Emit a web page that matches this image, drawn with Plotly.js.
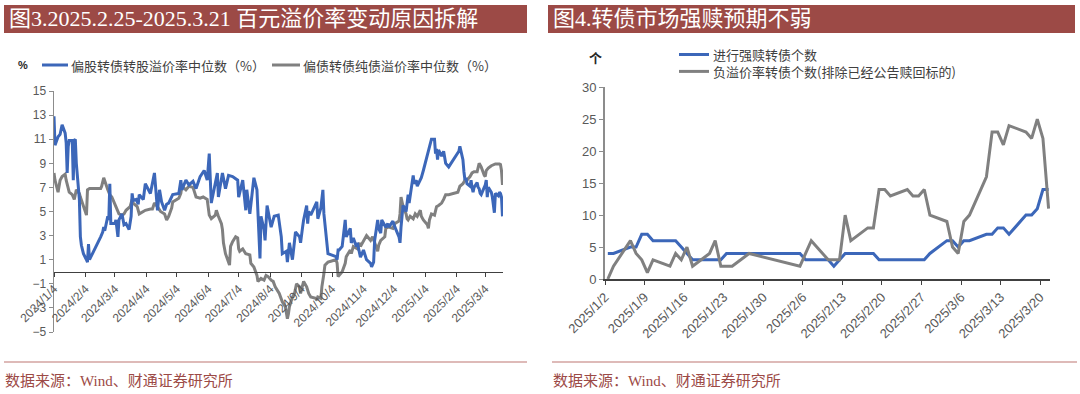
<!DOCTYPE html>
<html>
<head>
<meta charset="utf-8">
<script src="https://cdn.plot.ly/plotly-3.0.1.min.js"></script>
<style>
html,body{margin:0;padding:0;background:#fff;}
#chart{width:1080px;height:394px;}
</style>
</head>
<body>
<div id="chart"></div>
<script>
// ---------------- DATA ----------------
// Left panel: 偏股转债转股溢价率中位数 (%)
const leftBlueSeries = [
["2024-01-04",12.9],["2024-01-05",10.5],["2024-01-08",11.2],["2024-01-10",11.4],["2024-01-11",11.8],["2024-01-12",12.2],
["2024-01-15",11.5],["2024-01-16",10.7],["2024-01-17",8.2],["2024-01-18",10.4],["2024-01-19",10.9],["2024-01-22",10.9],
["2024-01-23",7.6],["2024-01-24",10.9],["2024-01-25",11.0],["2024-01-26",9.0],["2024-01-29",6.0],["2024-01-30",2.9],
["2024-01-31",2.2],["2024-02-02",1.5],["2024-02-05",1.0],["2024-02-06",0.8],["2024-02-07",2.3],["2024-02-08",1.0],
["2024-02-19",2.9],["2024-02-21",3.3],["2024-02-22",3.7],["2024-02-23",3.4],["2024-02-26",4.6],["2024-02-27",4.3],
["2024-02-28",7.3],["2024-02-29",4.0],["2024-03-04",4.0],["2024-03-05",4.3],["2024-03-07",2.9],["2024-03-08",4.3],
["2024-03-11",4.8],["2024-03-13",3.9],["2024-03-15",4.0],["2024-03-18",3.5],["2024-03-20",4.6],["2024-03-21",6.5],
["2024-03-22",5.9],["2024-03-25",6.0],["2024-03-27",5.6],["2024-03-28",6.4],["2024-04-01",6.0],["2024-04-03",7.3],
["2024-04-08",6.5],["2024-04-10",7.3],["2024-04-12",8.2],["2024-04-15",5.1],["2024-04-17",6.8],["2024-04-19",5.8],
["2024-04-22",5.1],["2024-04-24",5.6],["2024-04-26",5.7],["2024-04-30",6.4],["2024-05-06",6.5],["2024-05-08",7.6],
["2024-05-09",6.8],["2024-05-13",7.6],["2024-05-16",7.2],["2024-05-20",7.5],["2024-05-23",6.9],["2024-05-27",7.9],
["2024-05-31",8.4],["2024-06-03",7.6],["2024-06-05",9.8],["2024-06-07",5.7],["2024-06-11",7.6],["2024-06-13",8.2],
["2024-06-14",6.2],["2024-06-17",7.6],["2024-06-18",8.2],["2024-06-21",6.9],["2024-06-24",8.0],["2024-06-28",7.9],
["2024-07-03",7.6],["2024-07-04",6.2],["2024-07-08",7.6],["2024-07-11",5.1],["2024-07-12",6.8],["2024-07-15",4.8],
["2024-07-19",7.8],["2024-07-22",6.8],["2024-07-23",4.8],["2024-07-25",1.1],["2024-07-26",4.6],["2024-07-29",3.5],
["2024-07-30",2.6],["2024-08-01",5.5],["2024-08-05",3.7],["2024-08-08",4.6],["2024-08-12",4.7],["2024-08-15",2.9],
["2024-08-16",1.5],["2024-08-20",1.7],["2024-08-21",0.8],["2024-08-23",2.4],["2024-08-26",1.0],["2024-08-29",3.3],
["2024-09-02",2.9],["2024-09-03",2.4],["2024-09-05",3.7],["2024-09-06",4.3],["2024-09-09",5.5],["2024-09-10",4.0],
["2024-09-11",5.0],["2024-09-13",4.7],["2024-09-19",5.8],["2024-09-20",4.4],["2024-09-23",5.3],["2024-09-25",6.8],
["2024-09-26",4.8],["2024-09-30",1.5],["2024-10-08",1.25],["2024-10-09",1.0],["2024-10-10",1.8],["2024-10-11",1.8],
["2024-10-14",2.1],["2024-10-17",4.3],["2024-10-18",2.9],["2024-10-22",3.6],["2024-10-23",2.4],["2024-10-25",2.8],
["2024-10-28",2.1],["2024-10-29",2.4],["2024-11-01",1.2],["2024-11-04",1.8],["2024-11-07",1.0],["2024-11-11",0.7],
["2024-11-12",0.4],["2024-11-14",0.8],["2024-11-15",2.6],["2024-11-18",4.3],["2024-11-19",3.6],["2024-11-21",3.2],
["2024-11-22",4.3],["2024-11-26",3.7],["2024-11-28",4.0],["2024-11-29",3.7],["2024-12-03",4.2],["2024-12-05",3.7],
["2024-12-09",2.9],["2024-12-10",2.4],["2024-12-11",3.7],["2024-12-13",5.5],["2024-12-16",5.0],["2024-12-18",6.4],
["2024-12-19",5.7],["2024-12-23",8.0],["2024-12-24",7.3],["2024-12-26",7.6],["2024-12-27",7.1],["2024-12-30",7.6],
["2024-12-31",7.8],["2025-01-02",8.4],["2025-01-06",9.6],["2025-01-07",10.0],["2025-01-09",10.5],["2025-01-10",11.0],
["2025-01-13",11.0],["2025-01-14",9.8],["2025-01-15",10.2],["2025-01-16",9.3],["2025-01-17",10.1],["2025-01-20",9.6],
["2025-01-22",10.0],["2025-01-24",9.0],["2025-01-27",8.7],["2025-02-05",9.8],["2025-02-06",10.0],["2025-02-07",10.4],
["2025-02-10",9.3],["2025-02-11",8.3],["2025-02-12",7.6],["2025-02-13",7.8],["2025-02-14",7.3],["2025-02-17",7.1],
["2025-02-18",7.6],["2025-02-19",7.0],["2025-02-20",6.6],["2025-02-21",7.0],["2025-02-24",7.4],["2025-02-25",7.0],
["2025-02-26",6.9],["2025-02-27",6.5],["2025-02-28",6.4],["2025-03-03",7.0],["2025-03-04",7.2],["2025-03-05",7.6],
["2025-03-06",6.2],["2025-03-07",7.0],["2025-03-10",6.6],["2025-03-11",6.2],["2025-03-12",5.6],["2025-03-13",4.9],
["2025-03-14",6.5],["2025-03-17",6.3],["2025-03-18",6.6],["2025-03-19",6.5],["2025-03-20",6.2],["2025-03-21",4.6]
];
// Left panel: 偏债转债纯债溢价率中位数 (%)
const leftGraySeries = [
["2024-01-04",8.2],["2024-01-05",7.6],["2024-01-08",6.6],["2024-01-09",7.1],["2024-01-10",7.6],["2024-01-12",7.9],
["2024-01-15",8.1],["2024-01-16",7.6],["2024-01-18",6.8],["2024-01-19",6.6],["2024-01-22",6.4],["2024-01-24",6.0],
["2024-01-26",6.8],["2024-01-29",6.5],["2024-01-30",6.2],["2024-02-01",5.7],["2024-02-02",5.3],["2024-02-05",4.7],
["2024-02-06",6.8],["2024-02-08",6.9],["2024-02-19",6.9],["2024-02-20",7.1],["2024-02-22",7.8],["2024-02-23",7.5],
["2024-02-26",6.8],["2024-02-28",6.4],["2024-03-01",6.2],["2024-03-05",5.4],["2024-03-08",4.8],["2024-03-11",4.7],
["2024-03-13",4.8],["2024-03-15",5.1],["2024-03-19",5.4],["2024-03-21",6.0],["2024-03-22",5.7],["2024-03-26",5.4],
["2024-03-28",4.8],["2024-04-01",5.0],["2024-04-03",5.1],["2024-04-08",5.2],["2024-04-10",5.2],["2024-04-12",5.7],
["2024-04-15",5.4],["2024-04-18",5.0],["2024-04-22",4.8],["2024-04-24",4.3],["2024-04-26",4.6],["2024-04-29",5.3],
["2024-04-30",5.8],["2024-05-06",6.1],["2024-05-08",6.5],["2024-05-09",7.1],["2024-05-13",6.8],["2024-05-16",7.1],
["2024-05-20",7.0],["2024-05-23",6.2],["2024-05-27",6.1],["2024-05-30",6.2],["2024-06-03",6.0],["2024-06-05",4.7],
["2024-06-07",4.4],["2024-06-11",4.7],["2024-06-12",5.1],["2024-06-14",4.6],["2024-06-17",4.0],["2024-06-18",3.5],
["2024-06-19",2.4],["2024-06-21",1.5],["2024-06-24",0.8],["2024-06-25",0.55],["2024-06-26",2.1],["2024-06-28",2.5],
["2024-07-01",2.9],["2024-07-03",2.8],["2024-07-04",1.9],["2024-07-05",1.7],["2024-07-08",1.9],["2024-07-11",1.5],
["2024-07-15",1.4],["2024-07-16",0.7],["2024-07-19",0.4],["2024-07-22",-0.3],["2024-07-23",-0.8],["2024-07-26",-0.55],
["2024-07-29",-0.7],["2024-07-31",-0.3],["2024-08-02",-0.4],["2024-08-05",-0.7],["2024-08-07",-0.8],["2024-08-09",-1.25],
["2024-08-13",-1.8],["2024-08-16",-2.5],["2024-08-19",-2.9],["2024-08-21",-3.9],["2024-08-22",-3.5],["2024-08-23",-2.9],
["2024-08-26",-2.1],["2024-08-28",-1.8],["2024-08-30",-1.0],["2024-09-02",-1.25],["2024-09-03",-1.8],["2024-09-05",-1.0],
["2024-09-06",-0.8],["2024-09-09",-1.25],["2024-09-11",-1.8],["2024-09-13",-2.1],["2024-09-18",-2.2],["2024-09-19",-2.35],
["2024-09-20",-2.1],["2024-09-23",-2.2],["2024-09-24",-1.25],["2024-09-26",-0.15],["2024-09-27",0.55],["2024-09-30",0.8],
["2024-10-08",1.0],["2024-10-09",0.7],["2024-10-10",-0.4],["2024-10-14",0.0],["2024-10-15",0.3],["2024-10-17",0.7],
["2024-10-18",1.25],["2024-10-22",1.8],["2024-10-23",1.5],["2024-10-25",2.1],["2024-10-29",1.9],["2024-10-31",2.4],
["2024-11-01",2.1],["2024-11-04",2.6],["2024-11-07",3.0],["2024-11-08",2.9],["2024-11-11",2.6],["2024-11-13",2.9],
["2024-11-15",2.4],["2024-11-18",1.7],["2024-11-19",2.2],["2024-11-21",2.6],["2024-11-25",2.9],["2024-11-26",3.6],
["2024-11-28",3.7],["2024-11-29",3.7],["2024-12-03",3.6],["2024-12-05",4.0],["2024-12-09",4.2],["2024-12-10",4.8],
["2024-12-11",6.2],["2024-12-13",5.4],["2024-12-16",4.8],["2024-12-17",4.4],["2024-12-18",4.3],["2024-12-20",4.6],
["2024-12-23",4.4],["2024-12-25",4.8],["2024-12-27",4.6],["2024-12-30",5.1],["2024-12-31",4.6],["2025-01-02",4.3],
["2025-01-06",3.9],["2025-01-07",3.6],["2025-01-08",4.3],["2025-01-10",4.8],["2025-01-13",4.7],["2025-01-14",5.1],
["2025-01-15",5.4],["2025-01-17",5.5],["2025-01-20",5.7],["2025-01-22",6.0],["2025-01-24",6.4],["2025-01-27",6.4],
["2025-02-05",6.6],["2025-02-07",7.1],["2025-02-10",7.3],["2025-02-12",7.6],["2025-02-14",7.6],["2025-02-17",7.9],
["2025-02-19",8.2],["2025-02-21",8.3],["2025-02-24",8.3],["2025-02-26",9.0],["2025-02-28",8.7],["2025-03-03",8.0],
["2025-03-04",7.9],["2025-03-05",8.4],["2025-03-07",8.6],["2025-03-10",8.8],["2025-03-14",8.95],["2025-03-18",8.95],
["2025-03-19",8.9],["2025-03-20",8.4],["2025-03-21",7.2]
];
const leftTickVals = ["2024-01-04","2024-02-04","2024-03-04","2024-04-04","2024-05-04","2024-06-04","2024-07-04","2024-08-04",
  "2024-09-04","2024-10-04","2024-11-04","2024-12-04","2025-01-04","2025-02-04","2025-03-04"];
const leftTickText = ["2024/1/4","2024/2/4","2024/3/4","2024/4/4","2024/5/4","2024/6/4","2024/7/4","2024/8/4",
  "2024/9/4","2024/10/4","2024/11/4","2024/12/4","2025/1/4","2025/2/4","2025/3/4"];
const leftYTicks = [-5,-3,-1,1,3,5,7,9,11,13,15];

// Right panel
const rightDates = ["2025-01-02","2025-01-03","2025-01-06","2025-01-07","2025-01-08","2025-01-09","2025-01-10",
  "2025-01-13","2025-01-14","2025-01-15","2025-01-16","2025-01-17","2025-01-20","2025-01-21","2025-01-22","2025-01-23",
  "2025-01-24","2025-01-27","2025-02-05","2025-02-06","2025-02-07","2025-02-10","2025-02-11","2025-02-12","2025-02-13",
  "2025-02-14","2025-02-17","2025-02-18","2025-02-19","2025-02-20","2025-02-21","2025-02-24","2025-02-25","2025-02-26",
  "2025-02-27","2025-02-28","2025-03-03","2025-03-04","2025-03-05","2025-03-06","2025-03-07","2025-03-10","2025-03-11",
  "2025-03-12","2025-03-13","2025-03-14","2025-03-17","2025-03-18","2025-03-19","2025-03-20","2025-03-21"];
const rightBlue = [4,4,5,5,7,7,6, 6,6,5,4,3, 3,3,3,4,4,4, 4,3,3, 3,2,3,4,4, 4,4,3,3,3, 3,3,3,3,4, 6,6,5,6,6, 7,7,8,8,7, 10,10,11,14,14];
const rightGray = [0,2,6,4,3,1,3, 2,4,3,5,2, 4,6,2,2,2,4, 2,4,6, 3,3,3,10,6, 8,8,14,14,13, 14,13,13,14,10, 9,5,4,9,10, 16,23,23,21,24, 23,22,25,22,11];
const rightTickVals = ["2025-01-02","2025-01-09","2025-01-16","2025-01-23","2025-01-30","2025-02-06","2025-02-13",
  "2025-02-20","2025-02-27","2025-03-06","2025-03-13","2025-03-20"];
const rightTickText = ["2025/1/2","2025/1/9","2025/1/16","2025/1/23","2025/1/30","2025/2/6","2025/2/13",
  "2025/2/20","2025/2/27","2025/3/6","2025/3/13","2025/3/20"];
const rightYTicks = [0,5,10,15,20,25,30];

const seriesNames = {
  leftBlue: "偏股转债转股溢价率中位数（%）",
  leftGray: "偏债转债纯债溢价率中位数（%）",
  rightBlue: "进行强赎转债个数",
  rightGray: "负溢价率转债个数(排除已经公告赎回标的)"
};
const titles = {
  left: "图3.2025.2.25-2025.3.21 百元溢价率变动原因拆解",
  right: "图4.转债市场强赎预期不弱",
  source: "数据来源：Wind、财通证券研究所"
};

// ---------------- STYLE ----------------
const W = 1080, H = 394;
const BLUE = "#3C67B9", GRAY = "#808080", RED = "#9C4A46";
const CJK = "Noto Sans CJK SC, sans-serif";
const SERIF = "Liberation Serif, Noto Sans CJK SC, serif";
const SANS = "Liberation Sans, Arial, sans-serif";
const px = x => x / W;
const py = y => 1 - y / H;

// plot areas (pixels)
const L = {x0: 54, x1: 503, yTop: 91, yBot: 332};
const R = {x0: 605, x1: 1050, yTop: 87.3, yBot: 279};

const lbDates = leftBlueSeries.map(d => d[0]), lbVals = leftBlueSeries.map(d => d[1]);
const lgDates = leftGraySeries.map(d => d[0]), lgVals = leftGraySeries.map(d => d[1]);
// right panel points sit in the middle of each day
const rX = rightDates.map(d => d + " 12:00");

const traces = [
  {x: lgDates, y: lgVals, type: "scatter", mode: "lines", name: seriesNames.leftGray,
   line: {color: GRAY, width: 3}, xaxis: "x", yaxis: "y", showlegend: false, hoverinfo: "skip"},
  {x: lbDates, y: lbVals, type: "scatter", mode: "lines", name: seriesNames.leftBlue,
   line: {color: BLUE, width: 3}, xaxis: "x", yaxis: "y", showlegend: false, hoverinfo: "skip"},
  {x: rX, y: rightBlue, type: "scatter", mode: "lines", name: seriesNames.rightBlue,
   line: {color: BLUE, width: 3}, xaxis: "x2", yaxis: "y2", showlegend: false, hoverinfo: "skip"},
  {x: rX, y: rightGray, type: "scatter", mode: "lines", name: seriesNames.rightGray,
   line: {color: GRAY, width: 3}, xaxis: "x2", yaxis: "y2", showlegend: false, hoverinfo: "skip"}
];

const yDomL = [py(L.yBot), py(L.yTop)];
const zeroPos = yDomL[0] + (0 - (-5)) / 20 * (yDomL[1] - yDomL[0]);

// right legend: two rows in one text block
const RL_FONT = 13, RL_ROW = RL_FONT * 1.3, RL_Y1 = 54.5, RL_Y2 = RL_Y1 + RL_ROW;

const layout = {
  width: W, height: H,
  margin: {l: 0, r: 0, t: 0, b: 0},
  paper_bgcolor: "#fff", plot_bgcolor: "rgba(0,0,0,0)",
  showlegend: false,
  xaxis: {
    domain: [px(L.x0), px(L.x1)], anchor: "free", position: zeroPos,
    type: "date", range: ["2024-01-04", "2025-03-21 12:00"],
    tickmode: "array", tickvals: leftTickVals, ticktext: leftTickText, tickangle: -45,
    ticks: "outside", ticklen: 4, tickcolor: "#404040", tickwidth: 1,
    showline: true, linecolor: "#404040", linewidth: 1.5,
    showgrid: false, zeroline: false,
    tickfont: {family: SANS, size: 12, color: "#595959"}
  },
  yaxis: {
    domain: yDomL, anchor: "x", range: [-5, 15],
    tickmode: "array", tickvals: leftYTicks,
    ticks: "outside", ticklen: 4, tickcolor: "#8c8c8c",
    showline: true, linecolor: "#8c8c8c", linewidth: 1.5,
    showgrid: false, zeroline: false,
    tickfont: {family: SANS, size: 12, color: "#595959"}
  },
  xaxis2: {
    domain: [px(R.x0), px(R.x1)], anchor: "y2",
    type: "date", range: ["2025-01-02", "2025-03-21 18:00"],
    tickmode: "array", tickvals: rightTickVals, ticktext: rightTickText, tickangle: -45,
    ticks: "outside", ticklen: 4, tickcolor: "#404040",
    showline: true, linecolor: "#404040", linewidth: 1.5,
    showgrid: false, zeroline: false,
    tickfont: {family: SANS, size: 13, color: "#595959"}
  },
  yaxis2: {
    domain: [py(R.yBot), py(R.yTop)], anchor: "x2", range: [0, 30],
    tickmode: "array", tickvals: rightYTicks,
    ticks: "outside", ticklen: 4, tickcolor: "#8c8c8c",
    showline: true, linecolor: "#8c8c8c", linewidth: 2,
    showgrid: false, zeroline: false,
    tickfont: {family: SANS, size: 13, color: "#595959"}
  },
  shapes: [
    // title bars
    {type: "rect", xref: "paper", yref: "paper", x0: px(4), x1: px(527), y0: py(33), y1: py(5), fillcolor: RED, line: {width: 0}, layer: "below"},
    {type: "rect", xref: "paper", yref: "paper", x0: px(548), x1: px(1075), y0: py(33), y1: py(5), fillcolor: RED, line: {width: 0}, layer: "below"},
    // source dividers
    {type: "line", xref: "paper", yref: "paper", x0: px(4), x1: px(527), y0: py(362), y1: py(362), line: {color: "#D3A3A1", width: 1.5}},
    {type: "line", xref: "paper", yref: "paper", x0: px(552), x1: px(1077), y0: py(362), y1: py(362), line: {color: "#D3A3A1", width: 1.5}},
    // legend swatches
    {type: "line", xref: "paper", yref: "paper", x0: px(42), x1: px(68), y0: py(65), y1: py(65), line: {color: BLUE, width: 3}},
    {type: "line", xref: "paper", yref: "paper", x0: px(272), x1: px(300), y0: py(65), y1: py(65), line: {color: GRAY, width: 3}},
    {type: "line", xref: "paper", yref: "paper", x0: px(679), x1: px(709), y0: py(RL_Y1), y1: py(RL_Y1), line: {color: BLUE, width: 3}},
    {type: "line", xref: "paper", yref: "paper", x0: px(679), x1: px(709), y0: py(RL_Y2), y1: py(RL_Y2), line: {color: GRAY, width: 3}}
  ],
  annotations: [
    {text: titles.left, xref: "paper", yref: "paper", x: px(7), y: py(19), xanchor: "left", yanchor: "middle", showarrow: false,
     font: {family: SERIF, size: 22, color: "#ffffff"}},
    {text: titles.right, xref: "paper", yref: "paper", x: px(551), y: py(19), xanchor: "left", yanchor: "middle", showarrow: false,
     font: {family: SERIF, size: 22, color: "#ffffff"}},
    {text: titles.source, xref: "paper", yref: "paper", x: px(3), y: py(381), xanchor: "left", yanchor: "middle", showarrow: false,
     font: {family: SERIF, size: 15, color: RED}},
    {text: titles.source, xref: "paper", yref: "paper", x: px(551), y: py(381), xanchor: "left", yanchor: "middle", showarrow: false,
     font: {family: SERIF, size: 15, color: RED}},
    {text: "<b>%</b>", xref: "paper", yref: "paper", x: px(23), y: py(65), xanchor: "center", yanchor: "middle", showarrow: false,
     font: {family: SANS, size: 11, color: "#262626"}},
    {text: "<b>个</b>", xref: "paper", yref: "paper", x: px(595), y: py(57), xanchor: "center", yanchor: "middle", showarrow: false,
     font: {family: CJK, size: 13, color: "#262626"}},
    {text: seriesNames.leftBlue, xref: "paper", yref: "paper", x: px(69), y: py(65), xanchor: "left", yanchor: "middle", showarrow: false,
     font: {family: CJK, size: 13, color: "#404040"}},
    {text: seriesNames.leftGray, xref: "paper", yref: "paper", x: px(301), y: py(65), xanchor: "left", yanchor: "middle", showarrow: false,
     font: {family: CJK, size: 13, color: "#404040"}},
    {text: seriesNames.rightBlue + "<br>" + seriesNames.rightGray, xref: "paper", yref: "paper",
     x: px(711), y: py((RL_Y1 + RL_Y2) / 2), xanchor: "left", yanchor: "middle", align: "left", showarrow: false,
     font: {family: CJK, size: RL_FONT, color: "#404040"}}
  ]
};

Plotly.newPlot("chart", traces, layout, {staticPlot: true, displayModeBar: false});
</script>
</body>
</html>
